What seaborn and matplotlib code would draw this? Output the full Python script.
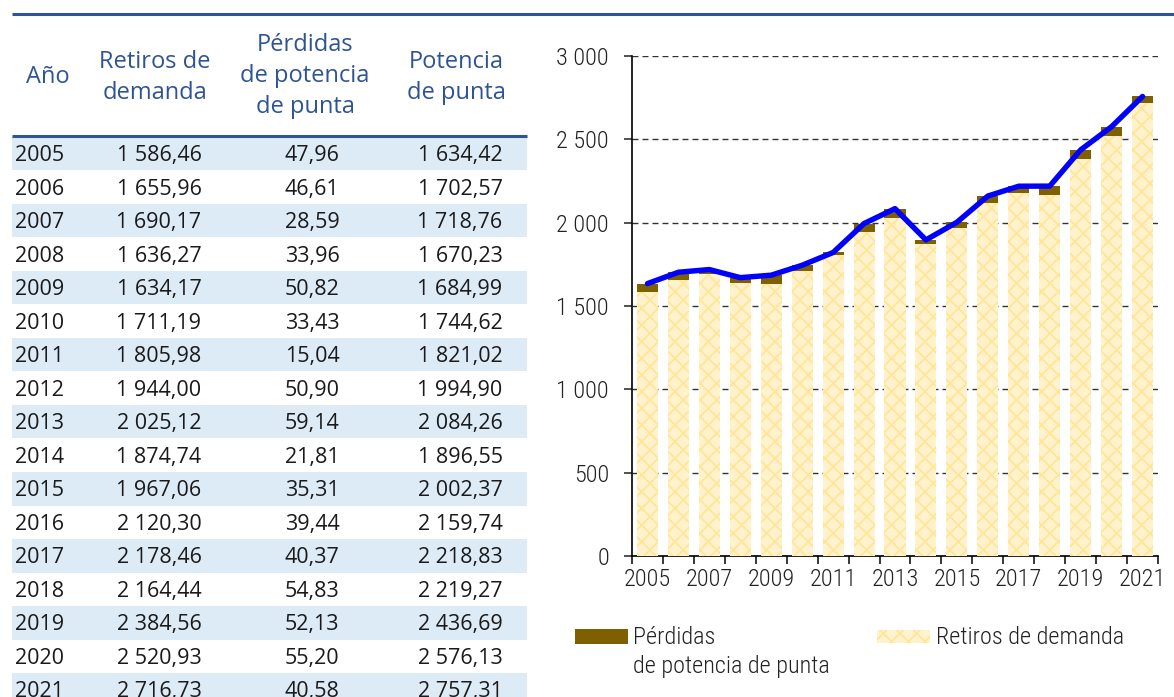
import numpy as np
import pandas as pd
import matplotlib
matplotlib.use("Agg")
import matplotlib.pyplot as plt
import seaborn as sns
from matplotlib.patches import Rectangle
from matplotlib.ticker import FuncFormatter

# ---- data (MW) ----
years = [2005, 2006, 2007, 2008, 2009, 2010, 2011, 2012, 2013,
         2014, 2015, 2016, 2017, 2018, 2019, 2020, 2021]
retiros = [1586.46, 1655.96, 1690.17, 1636.27, 1634.17, 1711.19, 1805.98,
           1944.00, 2025.12, 1874.74, 1967.06, 2120.30, 2178.46, 2164.44,
           2384.56, 2520.93, 2716.73]
perdidas = [47.96, 46.61, 28.59, 33.96, 50.82, 33.43, 15.04, 50.90, 59.14,
            21.81, 35.31, 39.44, 40.37, 54.83, 52.13, 55.20, 40.58]
potencia = [1634.42, 1702.57, 1718.76, 1670.23, 1684.99, 1744.62, 1821.02,
            1994.90, 2084.26, 1896.55, 2002.37, 2159.74, 2218.83, 2219.27,
            2436.69, 2576.13, 2757.31]

header_cols = [["Año"], ["Retiros de", "demanda"],
               ["Pérdidas", "de potencia", "de punta"],
               ["Potencia", "de punta"]]
legend_perdidas = ["Pérdidas", "de potencia de punta"]
legend_retiros = "Retiros de demanda"

BLUE_DARK = "#2f5496"
ROW_SHADE = "#ddebf7"
BROWN = "#7f6000"
LIGHT_YELLOW = "#fff2cc"
HATCH_YELLOW = "#ffe594"
LINE_BLUE = "#0000ff"
TEXT_DARK = "#222222"

sns.set_theme(style="white")
plt.rcParams["font.family"] = ["Open Sans", "DejaVu Sans"]
plt.rcParams["hatch.linewidth"] = 1.2
CHART_FONT = ["Roboto Condensed", "Liberation Sans Narrow", "Roboto", "DejaVu Sans"]
CHART_SIZE = 17.5

W, H = 1174, 697
fig = plt.figure(figsize=(W / 100, H / 100), dpi=100)


def es_num(v):
    s = f"{v:,.2f}"
    return s.replace(",", " ").replace(".", ",")


# ---- table layer, drawn in pixel coordinates ----
tab = fig.add_axes([0, 0, 1, 1])
tab.set_xlim(0, W)
tab.set_ylim(H, 0)
tab.axis("off")

tab.plot([12, W], [13.5, 13.5], color=BLUE_DARK, lw=2.2, solid_capstyle="butt")
tab.plot([12, 527], [135.5, 135.5], color=BLUE_DARK, lw=2.2,
         solid_capstyle="butt", zorder=3)

head_x = [48, 155, 305, 456]
head_base = [[83], [67.5, 98.6], [51, 82, 113], [67.5, 98.6]]
for hx, lines, bases in zip(head_x, header_cols, head_base):
    for txt, yb in zip(lines, bases):
        tab.text(hx, yb, txt, ha="center", va="baseline", fontsize=17,
                 color=BLUE_DARK)

base0 = 161.0
row_h = 33.53
col_x = [159, 312, 460]
for i, yr in enumerate(years):
    yb = base0 + i * row_h
    if i % 2 == 0:
        top = max(yb - 24.3, 136.5)
        tab.add_patch(Rectangle((12, top), 515, yb + 9.2 - top,
                                facecolor=ROW_SHADE, edgecolor="none",
                                zorder=0))
    tab.text(15, yb, str(yr), ha="left", va="baseline", fontsize=15.5,
             color="#1a1a1a")
    for cx, val in zip(col_x, (retiros[i], perdidas[i], potencia[i])):
        tab.text(cx, yb, es_num(val), ha="center", va="baseline",
                 fontsize=15.5, color="#1a1a1a")

# ---- chart ----
ax = fig.add_axes([632 / W, 141 / H, (1158 - 632) / W, 500 / H])
df = pd.DataFrame({"Año": years, "Retiros": retiros,
                   "Perdidas": perdidas, "Potencia": potencia})

# full peak-power bar; the withdrawals bar drawn over it leaves the losses on top
sns.barplot(data=df, x="Año", y="Potencia", color=BROWN, saturation=1,
            width=0.68, linewidth=0, ax=ax, zorder=2)
sns.barplot(data=df, x="Año", y="Retiros", color=LIGHT_YELLOW, saturation=1,
            width=0.68, hatch="xx", edgecolor=HATCH_YELLOW, linewidth=0,
            ax=ax, zorder=3)
sns.lineplot(x=np.arange(len(years)), y=df["Potencia"], color=LINE_BLUE,
             lw=3.9, ax=ax, zorder=5, solid_joinstyle="round",
             solid_capstyle="round")

ax.set_xlim(-0.5, len(years) - 0.5)
ax.set_ylim(0, 3000)
ax.set_yticks(range(0, 3001, 500))
ax.yaxis.set_major_formatter(FuncFormatter(lambda v, p: f"{int(v):,}".replace(",", " ")))
ax.set_xticks(range(0, len(years), 2))
ax.set_xticklabels([str(y) for y in years[::2]])
ax.set_xticks(np.arange(-0.5, len(years), 1.0), minor=True)
ax.set_xlabel("")
ax.set_ylabel("")

ax.set_axisbelow(True)
ax.yaxis.grid(True, linestyle=(0, (4.3, 2.9)), color="#333333", lw=1.0)
ax.xaxis.grid(False)
for s in ("top", "right"):
    ax.spines[s].set_visible(False)
for s in ("left", "bottom"):
    ax.spines[s].set_color("black")
    ax.spines[s].set_linewidth(1.2)

ax.tick_params(axis="y", which="major", direction="out", length=6,
               width=1.2, color="#333333", pad=10.5, left=True)
ax.tick_params(axis="x", which="major", length=0, pad=9)
ax.tick_params(axis="x", which="minor", direction="out", length=5.8,
               width=1.1, color="black", bottom=True)
for lab in ax.get_xticklabels() + ax.get_yticklabels():
    lab.set_family(CHART_FONT)
    lab.set_fontsize(CHART_SIZE)
    lab.set_fontweight("light")
    lab.set_color(TEXT_DARK)

# ---- legend ----
tab.add_patch(Rectangle((575, 629), 53, 15, facecolor=BROWN, edgecolor="none"))
tab.add_patch(Rectangle((877, 630), 53, 13, facecolor=LIGHT_YELLOW,
                        edgecolor=HATCH_YELLOW, lw=0, hatch="xx"))
for txt, x, yb in ((legend_perdidas[0], 633, 644),
                   (legend_perdidas[1], 633, 672.5),
                   (legend_retiros, 936, 644)):
    tab.text(x, yb, txt, ha="left", va="baseline", fontsize=CHART_SIZE,
             family=CHART_FONT, fontweight="light", color=TEXT_DARK)

fig.savefig("out.png", dpi=100)
